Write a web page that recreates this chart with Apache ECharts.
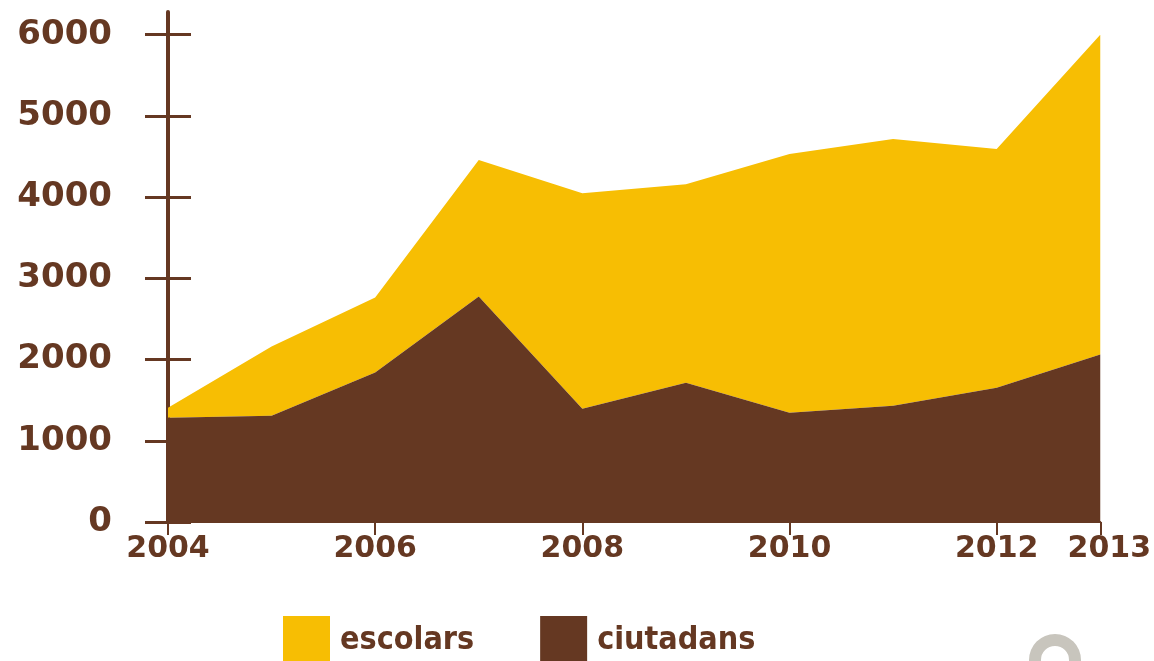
<!DOCTYPE html>
<html>
<head>
<meta charset="utf-8">
<script src="https://cdn.jsdelivr.net/npm/echarts@6/dist/echarts.min.js"></script>
<style>html,body{margin:0;padding:0;background:#fff}#c{width:1154px;height:661px}</style>
</head>
<body>
<div id="c"></div>
<script>
var years = ['2004', '2005', '2006', '2007', '2008', '2009', '2010', '2011', '2012', '2013'];
var ciutadans = [1284, 1309, 1840, 2778, 1395, 1716, 1346, 1432, 1654, 2062];
var escolars = [123, 851, 925, 1679, 2654, 2444, 3185, 3284, 2939, 3938];
var xTickLabels = ['2004', '2006', '2008', '2010', '2012', '2013'];
var yTickLabels = [0, 1000, 2000, 3000, 4000, 5000, 6000];

var BROWN = '#653822', YELLOW = '#F7BE03';
var FONT = '"DejaVu Sans", sans-serif';

function showYear(idx, val) { return xTickLabels.indexOf(String(val)) >= 0; }

var chart = echarts.init(document.getElementById('c'), null, {renderer: 'canvas'});
chart.setOption({
  animation: false,
  grid: {left: 168, right: 52, top: 12, bottom: 139, containLabel: false},
  legend: {
    left: 283, top: 616, itemWidth: 47, itemHeight: 50, itemGap: 66, padding: 0,
    icon: 'rect',
    data: ['escolars', 'ciutadans'],
    textStyle: {color: BROWN, fontSize: 32, fontWeight: 'bold', fontFamily: '"DejaVu Sans Condensed", "DejaVu Sans", sans-serif', padding: [0, 0, 0, 5]}
  },
  xAxis: {
    type: 'category', boundaryGap: false, data: years,
    axisLine: {show: true, lineStyle: {color: BROWN, width: 2}},
    axisTick: {show: true, interval: showYear, length: 13, lineStyle: {color: BROWN, width: 2}},
    axisLabel: {
      interval: showYear, margin: 12,
      color: BROWN, fontSize: 30, fontWeight: 'bold', fontFamily: FONT,
      formatter: function (v) { return v === '2013' ? '{r|' + v + '}' : String(v); },
      rich: {r: {padding: [0, 0, 0, 18], color: BROWN, fontSize: 30, fontWeight: 'bold', fontFamily: FONT}}
    },
    splitLine: {show: false}
  },
  yAxis: [{
    type: 'value', min: 0, max: 6280,
    axisLine: {show: true, lineStyle: {color: BROWN, width: 4}},
    axisTick: {show: true, inside: false, customValues: yTickLabels, length: 23, lineStyle: {color: BROWN, width: 3}},
    axisLabel: {customValues: yTickLabels, margin: 56, color: BROWN, fontSize: 34, fontWeight: 'bold', fontFamily: FONT,
      formatter: function (v) { return String(v); }},
    splitLine: {show: false}
  }, {
    type: 'value', min: 0, max: 6280, position: 'left',
    axisLine: {show: false},
    axisTick: {show: true, inside: true, customValues: yTickLabels, length: 23, lineStyle: {color: BROWN, width: 3}},
    axisLabel: {show: false},
    splitLine: {show: false}
  }],
  series: [{
    name: 'ciutadans', type: 'line', stack: 'total', data: ciutadans,
    symbol: 'none', lineStyle: {width: 0}, itemStyle: {color: BROWN},
    areaStyle: {color: BROWN, opacity: 1}, z: 3
  }, {
    name: 'escolars', type: 'line', stack: 'total', data: escolars,
    symbol: 'none', lineStyle: {width: 0}, itemStyle: {color: YELLOW},
    areaStyle: {color: YELLOW, opacity: 1}, z: 2
  }],
  graphic: [{
    type: 'ring', shape: {cx: 1055, cy: 660, r: 26, r0: 14},
    style: {fill: '#c8c5bd'}, silent: true
  }]
});
</script>
</body>
</html>
